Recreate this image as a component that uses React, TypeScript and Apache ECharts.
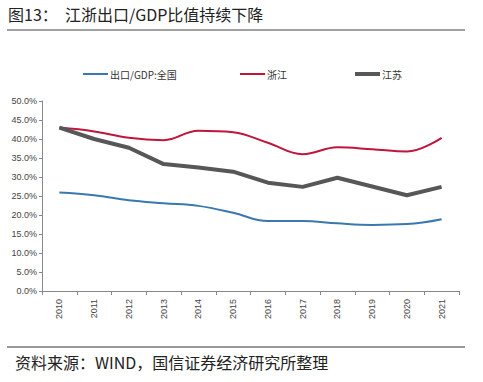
import React, { useEffect, useRef } from "react";
import * as echarts from "echarts";

const years = ["2010","2011","2012","2013","2014","2015","2016","2017","2018","2019","2020","2021"];
const national = [25.9, 25.2, 23.9, 23.1, 22.4, 20.6, 18.4, 18.4, 17.8, 17.4, 17.6, 18.9];
const zhejiang = [43.0, 42.0, 40.3, 39.7, 42.2, 41.8, 39.0, 36.0, 37.8, 37.3, 36.7, 40.3];
const jiangsu = [43.0, 40.0, 37.7, 33.4, 32.5, 31.4, 28.5, 27.4, 29.8, 27.5, 25.2, 27.4];
const seriesNames = ["出口/GDP:全国", "浙江", "江苏"];
const title = "图13：  江浙出口/GDP比值持续下降";
const source = "资料来源：WIND，国信证券经济研究所整理";

export default function App() {
  const ref = useRef<HTMLDivElement>(null);
  useEffect(() => {
    const chart = echarts.init(ref.current!, null, { renderer: "svg" });
    const cjk = "'Noto Sans CJK SC', sans-serif";
    const legendText = { fontSize: 10, color: "#333", fontFamily: cjk, padding: [0, 0, 0, -3] };
    chart.setOption({
      animation: false,
      backgroundColor: "#fff",
      graphic: [
        { type: "text", left: 8, top: 6, style: { text: title, fontSize: 16, fontWeight: "normal", fill: "#222", fontFamily: cjk } },
        { type: "line", shape: { x1: 7, y1: 30, x2: 465, y2: 30 }, style: { stroke: "#444", lineWidth: 1.2 } },
        { type: "line", shape: { x1: 7, y1: 347, x2: 465, y2: 347 }, style: { stroke: "#333", lineWidth: 1.2 } },
        { type: "text", left: 15, top: 354, style: { text: source, fontSize: 16, fill: "#222", fontFamily: cjk } },
      ],
      legend: [
        { data: [seriesNames[0]], left: 78, top: 64, icon: "rect", itemWidth: 25, itemHeight: 2, textStyle: legendText },
        { data: [seriesNames[1]], left: 235, top: 64, icon: "rect", itemWidth: 25, itemHeight: 2, textStyle: legendText },
        { data: [seriesNames[2]], left: 350, top: 64, icon: "rect", itemWidth: 25, itemHeight: 4, textStyle: legendText },
      ],
      grid: { left: 42, right: 24, top: 101, bottom: 91 },
      xAxis: {
        type: "category",
        data: years,
        boundaryGap: true,
        axisLine: { lineStyle: { color: "#888", width: 1 } },
        axisTick: { show: true, length: 4, lineStyle: { color: "#888" } },
        axisLabel: { rotate: 90, fontSize: 9, color: "#444", margin: 8, fontFamily: "Arial, 'Liberation Sans', sans-serif" },
      },
      yAxis: {
        type: "value",
        min: 0,
        max: 50,
        interval: 5,
        axisLine: { show: true, lineStyle: { color: "#888" } },
        axisTick: { show: true, length: 3, lineStyle: { color: "#888" } },
        splitLine: { show: false },
        axisLabel: { fontSize: 9, color: "#444", margin: 5, formatter: (v: number) => v.toFixed(1) + "%", fontFamily: "Arial, 'Liberation Sans', sans-serif" },
      },
      series: [
        { name: seriesNames[0], type: "line", data: national, smooth: 0.4, symbol: "none", lineStyle: { color: "#3a78b0", width: 2 }, itemStyle: { color: "#3a78b0" } },
        { name: seriesNames[1], type: "line", data: zhejiang, smooth: 0.4, symbol: "none", lineStyle: { color: "#c0153c", width: 2 }, itemStyle: { color: "#c0153c" } },
        { name: seriesNames[2], type: "line", data: jiangsu, smooth: false, symbol: "none", lineStyle: { color: "#575757", width: 4 }, itemStyle: { color: "#575757" } },
      ],
    });
    return () => chart.dispose();
  }, []);
  return <div ref={ref} style={{ width: 483, height: 382, position: "absolute", left: 0, top: 0 }} />;
}
